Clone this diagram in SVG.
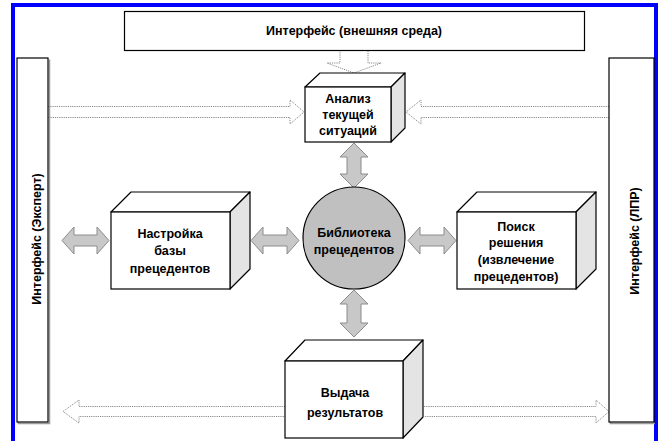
<svg xmlns="http://www.w3.org/2000/svg" width="659" height="441" viewBox="0 0 659 441">
<style>
.box{fill:#fff;stroke:#000;stroke-width:1.2}
.side{fill:#e4e4e4;stroke:#000;stroke-width:1.2;stroke-linejoin:round}
.top{fill:#fff;stroke:#000;stroke-width:1.2;stroke-linejoin:round}
.shadow{fill:none;stroke:#9a9a9a;stroke-width:1.5}
.t{font-family:"Liberation Sans",Arial,sans-serif;font-weight:bold;font-size:12.5px;fill:#000;text-anchor:middle}
.hollow{fill:#fff;stroke:#8a8a8a;stroke-width:1;stroke-dasharray:1.2 1}
.solid{fill:#c8c8c8;stroke:#8c8c8c;stroke-width:1}
</style>
<rect x="0" y="0" width="659" height="441" fill="#fff"/>
<path d="M13 445 V5 H656 V445" fill="none" stroke="#0000ff" stroke-width="4"/>

<g id="connectors">
  <path class="hollow" d="M340 50 V63 H327 L354 73 L381 63 H368 V50"/>
  <path class="hollow" d="M48 106.5 H290 V100 L304 112 L290 124 V117.5 H48"/>
  <path class="hollow" d="M609 106.5 H421 V100 L406 112 L421 124 V117.5 H609"/>
  <path class="solid" d="M354 143 L368 157 H361 V174 H368 L354 188 L340 174 H347 V157 H340 Z"/>
  <path class="solid" d="M354 290 L368 304 H361 V323 H368 L354 337 L340 323 H347 V304 H340 Z"/>
  <path class="solid" d="M62 240.5 L74 227 V235 H97 V227 L109 240.5 L97 254 V246 H74 V254 Z"/>
  <path class="solid" d="M251 240.5 L263 227 V235 H287 V227 L299 240.5 L287 254 V246 H263 V254 Z"/>
  <path class="solid" d="M408 240.5 L420 227 V235 H444 V227 L456 240.5 L444 254 V246 H420 V254 Z"/>
  <path class="hollow" d="M285 406.5 H79 V400 L63 411.5 L79 423 V416.5 H285"/>
  <path class="hollow" d="M424 406.5 H596 V400 L609 411.5 L596 423 V416.5 H424"/>
</g>

<g id="iface-top">
  <rect class="box" x="124.5" y="11.5" width="460" height="39"/>
  <text class="t" x="354" y="34.5">Интерфейс (внешняя среда)</text>
</g>

<g id="iface-expert">
  <path class="shadow" d="M18.5 59.5 V423.5 H49.5 V59.5"/>
  <rect class="box" x="17" y="58" width="31" height="364"/>
  <text class="t" transform="translate(41 239) rotate(-90)">Интерфейс (Эксперт)</text>
</g>

<g id="iface-lpr">
  <path class="shadow" d="M610.5 59.5 V423.5 H655"/>
  <rect class="box" x="609" y="58" width="45" height="364"/>
  <text class="t" transform="translate(639 241) rotate(-90)">Интерфейс (ЛПР)</text>
</g>

<g id="analysis">
  <path class="top" d="M305 87 L320 73 H405 L391 87 Z"/>
  <path class="side" d="M391 87 L405 73 V128 L391 142 Z"/>
  <rect class="box" x="305" y="87" width="86" height="55"/>
  <text class="t" x="348" y="103">Анализ</text>
  <text class="t" x="348" y="119">текущей</text>
  <text class="t" x="348" y="135">ситуаций</text>
</g>

<g id="library">
  <circle cx="354" cy="238" r="51" fill="#c0c0c0" stroke="#000" stroke-width="1.2"/>
  <text class="t" x="354" y="237">Библиотека</text>
  <text class="t" x="354" y="254">прецедентов</text>
</g>

<g id="settings">
  <path class="top" d="M111 212 L131 192 H250 L230 212 Z"/>
  <path class="side" d="M230 212 L250 192 V269 L230 289 Z"/>
  <rect class="box" x="111" y="212" width="119" height="77"/>
  <text class="t" x="170" y="238">Настройка</text>
  <text class="t" x="170" y="255">базы</text>
  <text class="t" x="170" y="273">прецедентов</text>
</g>

<g id="search">
  <path class="top" d="M457 212 L477 192 H596 L576 212 Z"/>
  <path class="side" d="M576 212 L596 192 V269 L576 289 Z"/>
  <rect class="box" x="457" y="212" width="119" height="77"/>
  <text class="t" x="516" y="231">Поиск</text>
  <text class="t" x="516" y="247">решения</text>
  <text class="t" x="516" y="264">(извлечение</text>
  <text class="t" x="516" y="281">прецедентов)</text>
</g>

<g id="output">
  <path class="top" d="M285 361 L305 340 H423 L403 361 Z"/>
  <path class="side" d="M403 361 L423 340 V417 L403 438 Z"/>
  <rect class="box" x="285" y="361" width="118" height="77"/>
  <text class="t" x="345" y="397">Выдача</text>
  <text class="t" x="345" y="417">результатов</text>
</g>
</svg>
